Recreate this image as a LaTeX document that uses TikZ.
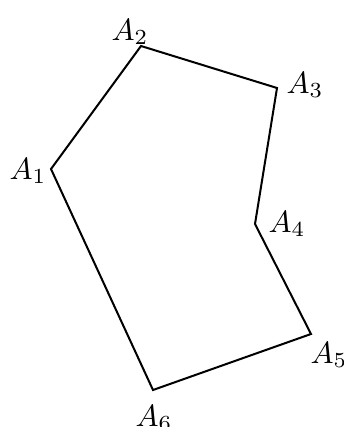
\documentclass[tikz,border=0pt]{standalone}
\usepackage{graphicx}
\newcommand{\vlabel}[1]{\resizebox{!}{21pt}{$#1$}}
\begin{document}
\begin{tikzpicture}[x=1pt,y=-1pt,
  lbl/.style={inner sep=0pt},
  edge/.style={line width=2pt,line join=miter}]
\useasboundingbox (0,0) rectangle (344,427);
\coordinate (A1) at (51,169);
\coordinate (A2) at (141,46);
\coordinate (A3) at (277,88);
\coordinate (A4) at (255,224);
\coordinate (A5) at (311,334);
\coordinate (A6) at (153,390);
\draw[edge] (A1) -- (A2) -- (A3) -- (A4) -- (A5) -- (A6) -- cycle;
\node[lbl] (L1) at (28,171) {\vlabel{A_1}};
\node[lbl] (L2) at (130,32) {\vlabel{A_2}};
\node[lbl] (L3) at (305,85) {\vlabel{A_3}};
\node[lbl] (L4) at (287,224) {\vlabel{A_4}};
\node[lbl] (L5) at (329,355) {\vlabel{A_5}};
\node[lbl] (L6) at (154,418) {\vlabel{A_6}};
\end{tikzpicture}
\end{document}
